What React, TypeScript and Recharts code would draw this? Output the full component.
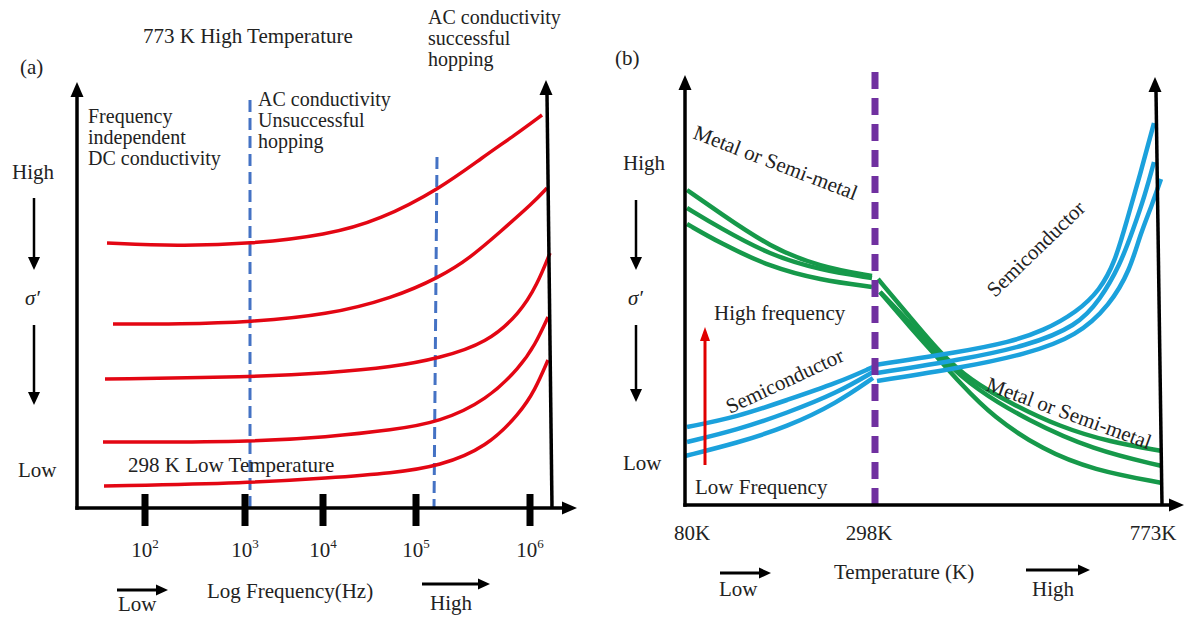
import React from 'react';
import { LineChart, Line, XAxis, YAxis, ReferenceLine, ReferenceDot } from 'recharts';

// schematic units: x = distance along the axis, y = height of sigma' above the axis
const FREQ_TICKS = [68, 168, 246, 339, 453];
const FREQ_EXP = ['2', '3', '4', '5', '6'];
const TEMP_TICKS = [7, 184, 468];
const TEMP_LABELS = ['80K', '298K', '773K'];

// (a) red curves, from 773 K (top) down to 298 K (bottom)
const red1 = [{ x: 30, y: 265 }, { x: 100, y: 262 }, { x: 173, y: 264 }, { x: 250, y: 273 }, { x: 303, y: 288 }, { x: 364, y: 320 }, { x: 406, y: 351 }, { x: 438, y: 373 }, { x: 465, y: 393 }];
const red2 = [{ x: 36, y: 184 }, { x: 103, y: 184 }, { x: 173, y: 186 }, { x: 250, y: 193 }, { x: 316, y: 210 }, { x: 363, y: 231 }, { x: 393, y: 250 }, { x: 423, y: 276 }, { x: 456, y: 305 }, { x: 470, y: 320 }];
const red3 = [{ x: 28, y: 129 }, { x: 173, y: 131 }, { x: 250, y: 135 }, { x: 316, y: 141 }, { x: 363, y: 150 }, { x: 410, y: 165 }, { x: 443, y: 195 }, { x: 460, y: 223 }, { x: 473, y: 255 }];
const red4 = [{ x: 26, y: 66 }, { x: 173, y: 66 }, { x: 250, y: 71 }, { x: 316, y: 78 }, { x: 363, y: 86 }, { x: 410, y: 108 }, { x: 443, y: 141 }, { x: 458, y: 163 }, { x: 471, y: 191 }];
const red5 = [{ x: 27, y: 22 }, { x: 173, y: 25 }, { x: 250, y: 30 }, { x: 316, y: 35 }, { x: 363, y: 42 }, { x: 410, y: 61 }, { x: 443, y: 95 }, { x: 458, y: 118 }, { x: 471, y: 148 }];

// (b) green (metal) curves, below and above 298 K
const greenL1 = [{ x: 2, y: 315 }, { x: 35, y: 292 }, { x: 85, y: 258 }, { x: 135, y: 238 }, { x: 187, y: 229 }];
const greenL2 = [{ x: 2, y: 297 }, { x: 35, y: 277 }, { x: 85, y: 250 }, { x: 135, y: 235 }, { x: 187, y: 227 }];
const greenL3 = [{ x: 2, y: 281 }, { x: 35, y: 262 }, { x: 85, y: 238 }, { x: 135, y: 225 }, { x: 187, y: 218 }];
const greenR1 = [{ x: 193, y: 226 }, { x: 225, y: 188 }, { x: 255, y: 152 }, { x: 285, y: 125 }, { x: 325, y: 102 }, { x: 375, y: 78 }, { x: 425, y: 63 }, { x: 477, y: 54 }];
const greenR2 = [{ x: 195, y: 213 }, { x: 225, y: 182 }, { x: 258, y: 145 }, { x: 292, y: 115 }, { x: 342, y: 85 }, { x: 408, y: 55 }, { x: 477, y: 39 }];
const greenR3 = [{ x: 195, y: 213 }, { x: 225, y: 178 }, { x: 252, y: 148 }, { x: 275, y: 122 }, { x: 308, y: 88 }, { x: 358, y: 55 }, { x: 408, y: 35 }, { x: 477, y: 22 }];

// (b) blue (semiconductor) curves
const blueL1 = [{ x: 2, y: 78 }, { x: 52, y: 88 }, { x: 102, y: 105 }, { x: 152, y: 122 }, { x: 188, y: 138 }];
const blueL2 = [{ x: 2, y: 63 }, { x: 52, y: 75 }, { x: 102, y: 92 }, { x: 152, y: 112 }, { x: 188, y: 133 }];
const blueL3 = [{ x: 0, y: 49 }, { x: 52, y: 62 }, { x: 102, y: 78 }, { x: 152, y: 102 }, { x: 188, y: 127 }];
const blueR1 = [{ x: 190, y: 140 }, { x: 275, y: 153 }, { x: 325, y: 163 }, { x: 358, y: 174 }, { x: 392, y: 193 }, { x: 415, y: 215 }, { x: 430, y: 243 }, { x: 442, y: 285 }, { x: 455, y: 330 }, { x: 469, y: 382 }];
const blueR2 = [{ x: 192, y: 132 }, { x: 275, y: 145 }, { x: 342, y: 159 }, { x: 392, y: 179 }, { x: 415, y: 205 }, { x: 435, y: 240 }, { x: 448, y: 275 }, { x: 460, y: 310 }, { x: 469, y: 343 }];
const blueR3 = [{ x: 192, y: 124 }, { x: 275, y: 137 }, { x: 342, y: 151 }, { x: 392, y: 169 }, { x: 425, y: 200 }, { x: 445, y: 235 }, { x: 455, y: 270 }, { x: 467, y: 300 }, { x: 476, y: 326 }];

const SERIF = '"Liberation Serif", "Times New Roman", serif';
const RED = '#e30613';
const GREEN = '#16994a';
const BLUE = '#1ba1dc';

const head = (dir: string, len: number, half: number, color: string) => (p: any) => {
  const { cx, cy } = p;
  let pts = '';
  if (dir === 'up') pts = `${cx},${cy} ${cx - half},${cy + len} ${cx + half},${cy + len}`;
  if (dir === 'down') pts = `${cx},${cy} ${cx - half},${cy - len} ${cx + half},${cy - len}`;
  if (dir === 'right') pts = `${cx},${cy} ${cx - len},${cy - half} ${cx - len},${cy + half}`;
  return <polygon points={pts} fill={color} />;
};

const seg = (x1: number, y1: number, x2: number, y2: number, stroke = '#000', width = 3.5, dash?: string) => (
  <ReferenceLine
    segment={[{ x: x1, y: y1 }, { x: x2, y: y2 }]}
    stroke={stroke}
    strokeWidth={width}
    strokeDasharray={dash}
    ifOverflow="visible"
  />
);

const tip = (x: number, y: number, dir: string, len: number, half: number, color = '#000') => (
  <ReferenceDot x={x} y={y} r={1} ifOverflow="visible" shape={head(dir, len, half, color)} />
);

const FreqTick = (props: any) => {
  const { x, y, payload } = props;
  const i = FREQ_TICKS.indexOf(payload.value);
  return (
    <g>
      <rect x={x - 3.5} y={y - 14} width={7} height={32} fill="#000" />
      <text x={x} y={y + 49} textAnchor="middle" fontFamily={SERIF} fontSize={21} fill="#222">
        10<tspan dy={-9} fontSize={13}>{FREQ_EXP[i]}</tspan>
      </text>
    </g>
  );
};

const TempTick = (props: any) => {
  const { x, y, payload } = props;
  const i = TEMP_TICKS.indexOf(payload.value);
  return (
    <text x={x} y={y + 35} textAnchor="middle" fontFamily={SERIF} fontSize={21} fill="#222">
      {TEMP_LABELS[i]}
    </text>
  );
};

const curve = (data: any[], color: string, width: number, key: string) => (
  <Line
    key={key}
    data={data}
    dataKey="y"
    type="basis"
    stroke={color}
    strokeWidth={width}
    dot={false}
    activeDot={false}
    isAnimationActive={false}
  />
);

const T = ({ x, y, children, rot, italic, size = 21 }: any) => (
  <text
    x={x}
    y={y}
    fontFamily={SERIF}
    fontSize={size}
    fill="#222"
    fontStyle={italic ? 'italic' : 'normal'}
    transform={rot ? `rotate(${rot} ${x} ${y})` : undefined}
  >
    {children}
  </text>
);

export default function App() {
  return (
    <div style={{ position: 'absolute', left: 0, top: 0, width: 1187, height: 617, background: '#fff' }}>
      <div style={{ position: 'absolute', left: 0, top: 0 }}>
        <LineChart width={600} height={617} margin={{ top: 78, right: 23, bottom: 49, left: 77 }}>
          <XAxis type="number" dataKey="x" domain={[0, 500]} ticks={FREQ_TICKS} interval={0} height={60}
            axisLine={false} tickLine={false} tickSize={0} tickMargin={0} tick={<FreqTick />} />
          <YAxis type="number" domain={[0, 430]} hide width={0} />
          {seg(173, 408, 173, 0, '#4472c4', 3, '12 6')}
          {seg(360, 351, 357, 0, '#4472c4', 3, '12 6')}
          {curve(red1, RED, 3.5, 'r1')}
          {curve(red2, RED, 3.5, 'r2')}
          {curve(red3, RED, 3.5, 'r3')}
          {curve(red4, RED, 3.5, 'r4')}
          {curve(red5, RED, 3.5, 'r5')}
          {seg(0, -1.7, 0, 412)}
          {tip(0, 426, 'up', 15, 6.5)}
          {seg(-1.7, 0, 486, 0)}
          {tip(500, 0, 'right', 15, 6.5)}
          {seg(475, 0, 470, 414)}
          {tip(469, 428, 'up', 15, 6.5)}
          {seg(-43, 310, -43, 250, '#000', 2.5)}
          {tip(-43, 238, 'down', 13, 6)}
          {seg(-43, 183, -43, 115, '#000', 2.5)}
          {tip(-43, 103, 'down', 13, 6)}
          {seg(40, -82, 80, -82, '#000', 3)}
          {tip(91, -82, 'right', 12, 5.5)}
          {seg(345, -76, 402, -76, '#000', 3)}
          {tip(413, -76, 'right', 12, 5.5)}
        </LineChart>
      </div>
      <div style={{ position: 'absolute', left: 600, top: 0 }}>
        <LineChart width={587} height={617} margin={{ top: 65, right: 2, bottom: 52, left: 85 }}>
          <XAxis type="number" dataKey="x" domain={[0, 500]} ticks={TEMP_TICKS} interval={0} height={60}
            axisLine={false} tickLine={false} tickSize={0} tickMargin={0} tick={<TempTick />} />
          <YAxis type="number" domain={[0, 440]} hide width={0} />
          {curve(greenL1, GREEN, 4.5, 'gl1')}
          {curve(greenL2, GREEN, 4.5, 'gl2')}
          {curve(greenL3, GREEN, 4.5, 'gl3')}
          {curve(greenR1, GREEN, 4.5, 'gr1')}
          {curve(greenR2, GREEN, 4.5, 'gr2')}
          {curve(greenR3, GREEN, 4.5, 'gr3')}
          {curve(blueL1, BLUE, 4.5, 'bl1')}
          {curve(blueL2, BLUE, 4.5, 'bl2')}
          {curve(blueL3, BLUE, 4.5, 'bl3')}
          {curve(blueR1, BLUE, 4.5, 'br1')}
          {curve(blueR2, BLUE, 4.5, 'br2')}
          {curve(blueR3, BLUE, 4.5, 'br3')}
          {seg(190, 433, 190, 0, '#7030a0', 7, '17 9')}
          {seg(0, -1.7, 0, 416)}
          {tip(0, 430, 'up', 15, 6.5)}
          {seg(-1.7, 0, 486, 0)}
          {tip(499, 0, 'right', 15, 6.5)}
          {seg(477, 0, 471, 414)}
          {tip(470, 428, 'up', 15, 6.5)}
          {seg(-49, 305, -49, 247, '#000', 2.5)}
          {tip(-49, 235, 'down', 13, 6)}
          {seg(-49, 180, -49, 115, '#000', 2.5)}
          {tip(-49, 103, 'down', 13, 6)}
          {seg(35, -68, 75, -68, '#000', 3)}
          {tip(86, -68, 'right', 12, 5.5)}
          {seg(341, -65, 394, -65, '#000', 3)}
          {tip(405, -65, 'right', 12, 5.5)}
          {seg(20, 40, 20, 164, '#e00000', 3)}
          {tip(20, 178, 'up', 14, 5, '#e00000')}
        </LineChart>
      </div>
      <svg width={1187} height={617} style={{ position: 'absolute', left: 0, top: 0, pointerEvents: 'none' }}>
        {/* panel (a) */}
        <T x={143} y={43}>773 K High Temperature</T>
        <T x={20} y={74}>(a)</T>
        <T x={428} y={24} size={20}>AC conductivity</T>
        <T x={428} y={45} size={20}>successful</T>
        <T x={428} y={66} size={20}>hopping</T>
        <T x={88} y={123} size={20}>Frequency</T>
        <T x={88} y={144} size={20}>independent</T>
        <T x={88} y={165} size={20}>DC conductivity</T>
        <T x={258} y={106} size={20}>AC conductivity</T>
        <T x={258} y={127} size={20}>Unsuccessful</T>
        <T x={258} y={148} size={20}>hopping</T>
        <T x={12} y={179}>High</T>
        <T x={25} y={305} italic>σ′</T>
        <T x={18} y={477}>Low</T>
        <T x={128} y={472}>298 K Low Temperature</T>
        <T x={207} y={598}>Log Frequency(Hz)</T>
        <T x={118} y={611}>Low</T>
        <T x={430} y={610}>High</T>
        {/* panel (b) */}
        <T x={615} y={65}>(b)</T>
        <T x={623} y={170}>High</T>
        <T x={628} y={305} italic>σ′</T>
        <T x={623} y={470}>Low</T>
        <T x={692} y={138} rot={21}>Metal or Semi-metal</T>
        <T x={995} y={298} rot={-44}>Semiconductor</T>
        <T x={714} y={320}>High frequency</T>
        <T x={730} y={414} rot={-25}>Semiconductor</T>
        <T x={695} y={494}>Low Frequency</T>
        <T x={985} y={390} rot={20}>Metal or Semi-metal</T>
        <T x={834} y={579}>Temperature (K)</T>
        <T x={719} y={596}>Low</T>
        <T x={1032} y={596}>High</T>
      </svg>
    </div>
  );
}
